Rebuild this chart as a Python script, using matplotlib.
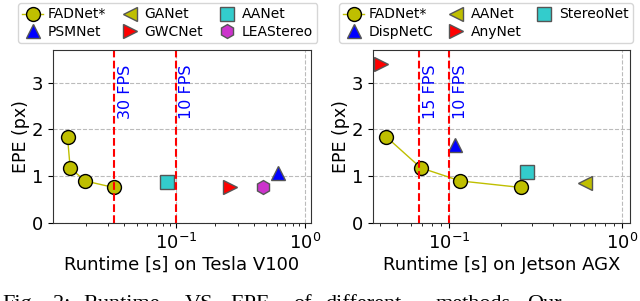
import matplotlib.pyplot as plt

# Tesla V100 (runtime s, EPE px)
v100_fadnet_t = [0.0145, 0.0152, 0.0198, 0.033]
v100_fadnet_epe = [1.84, 1.18, 0.90, 0.76]
v100_ganet = (1.8, 0.84)      # outside the visible range
v100_aanet = (0.086, 0.87)
v100_psmnet = (0.62, 1.07)
v100_gwcnet = (0.26, 0.76)
v100_lea = (0.47, 0.78)

# Jetson AGX
agx_fadnet_t = [0.0435, 0.0687, 0.116, 0.26]
agx_fadnet_epe = [1.84, 1.18, 0.90, 0.76]
agx_aanet = (0.61, 0.86)
agx_stereonet = (0.284, 1.09)
agx_dispnetc = (0.109, 1.66)
agx_anynet = (0.0404, 3.40)

caption_words = ['Fig.', '2:', 'Runtime', 'VS.', 'EPE', 'of', 'different', 'methods.', 'Our']
caption_x = [2, 53, 83, 185, 230, 293, 325, 436, 527]

plt.rcParams['font.family'] = 'DejaVu Sans'

fig = plt.figure(figsize=(6.4, 3.01), dpi=100)
ax1 = fig.add_axes([53/640, 1-223/301, 258/640, 173/301])
ax2 = fig.add_axes([373/640, 1-223/301, 257/640, 173/301])

ms = 10
edge = '#555555'

def fps_line(ax, fps, label):
    ax.axvline(1.0/fps, color='red', linestyle='--', linewidth=1.5)
    ax.text(1.0/fps*1.06, 3.38, label, rotation=90, color='blue', fontsize=11.5,
            ha='left', va='top')

# left panel
h = {}
h['FADNet*'], = ax1.plot(v100_fadnet_t, v100_fadnet_epe, color='#bfbf00', linewidth=1, marker='o',
                         markersize=ms, markerfacecolor='#bfbf00', markeredgecolor='black')
h['GANet'], = ax1.plot(*v100_ganet, '<', ms=ms, mfc='#bfbf00', mec=edge)
h['AANet'], = ax1.plot(*v100_aanet, 's', ms=ms, mfc='#33cccc', mec=edge)
h['PSMNet'], = ax1.plot(*v100_psmnet, '^', ms=ms, mfc='blue', mec=edge)
h['GWCNet'], = ax1.plot(*v100_gwcnet, '>', ms=ms, mfc='red', mec=edge)
h['LEAStereo'], = ax1.plot(*v100_lea, 'h', ms=ms, mfc='#cc33cc', mec=edge)
fps_line(ax1, 30, '30 FPS')
fps_line(ax1, 10, '10 FPS')
ax1.set_xlim(0.0112, 1.107)
ax1.set_xlabel('Runtime [s] on Tesla V100', fontsize=13, labelpad=2)
order1 = ['FADNet*', 'PSMNet', 'GANet', 'GWCNet', 'AANet', 'LEAStereo']
leg1 = ([h[k] for k in order1], order1)

# right panel
g = {}
g['FADNet*'], = ax2.plot(agx_fadnet_t, agx_fadnet_epe, color='#bfbf00', linewidth=1, marker='o',
                         markersize=ms, markerfacecolor='#bfbf00', markeredgecolor='black')
g['AANet'], = ax2.plot(*agx_aanet, '<', ms=ms, mfc='#bfbf00', mec=edge)
g['StereoNet'], = ax2.plot(*agx_stereonet, 's', ms=ms, mfc='#33cccc', mec=edge)
g['DispNetC'], = ax2.plot(*agx_dispnetc, '^', ms=ms, mfc='blue', mec=edge)
g['AnyNet'], = ax2.plot(*agx_anynet, '>', ms=ms, mfc='red', mec=edge)
fps_line(ax2, 15, '15 FPS')
fps_line(ax2, 10, '10 FPS')
ax2.set_xlim(0.0364, 1.11)
ax2.set_xlabel('Runtime [s] on Jetson AGX', fontsize=13, labelpad=2)
order2 = ['FADNet*', 'DispNetC', 'AANet', 'AnyNet', 'StereoNet']
leg2 = ([g[k] for k in order2], order2)

for ax, lx, leg, cs in ((ax1, 0.445, leg1, 1.0), (ax2, 0.44, leg2, 0.9)):
    ax.set_xscale('log')
    ax.set_ylim(0, 3.7)
    ax.set_yticks([0, 1, 2, 3])
    ax.set_ylabel('EPE (px)', fontsize=12.5, labelpad=1)
    ax.tick_params(labelsize=13)
    ax.grid(True, which='major', linestyle='--', color='#bbbbbb')
    for s in ax.spines.values():
        s.set_color('#333333')
    ax.legend(*leg, loc='lower center', bbox_to_anchor=(lx, 1.0), ncol=3, fontsize=10,
              handletextpad=0.3, columnspacing=cs, borderpad=0.3, labelspacing=0.25,
              handlelength=1.5)

for w, x in zip(caption_words, caption_x):
    fig.text(x/640, 1-295/301, w, family='Liberation Serif', fontsize=16,
             va='top', ha='left')

fig.savefig('out.png', dpi=100)
